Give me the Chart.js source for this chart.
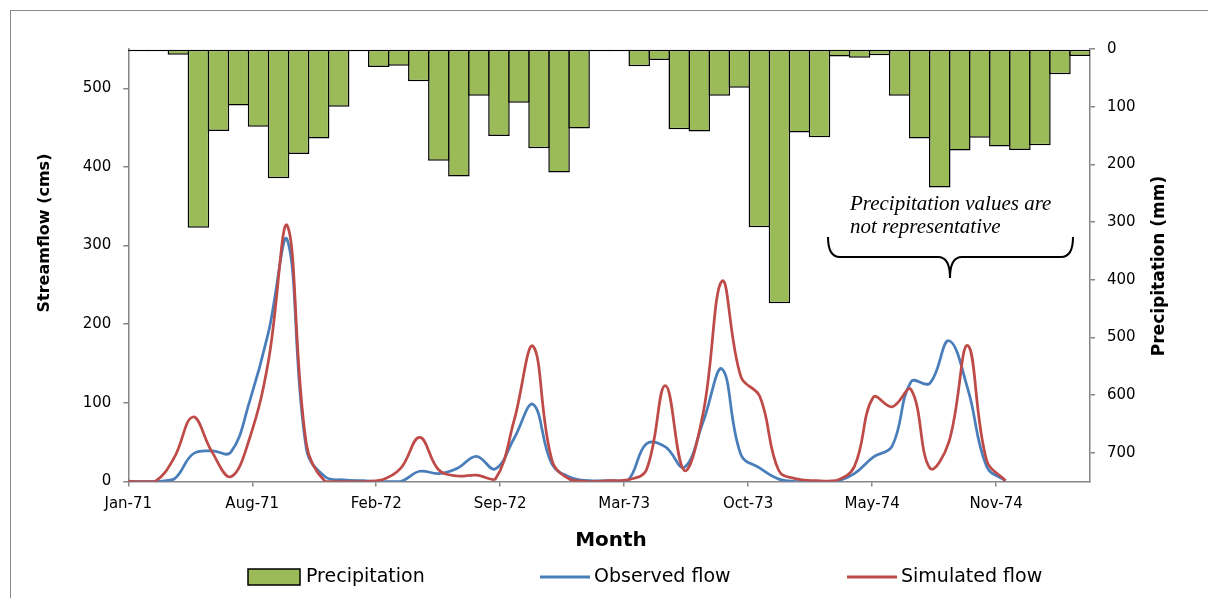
<!DOCTYPE html>
<html>
<head>
<meta charset="utf-8">
<title>Streamflow and precipitation</title>
<script src="https://cdn.jsdelivr.net/npm/chart.js@4.4.1/dist/chart.umd.min.js"></script>
<style>
  html, body { margin: 0; padding: 0; background: #fff; overflow: hidden; }
</style>
</head>
<body>
<canvas id="flowChart" width="1208" height="598"></canvas>
<script>
// ─── DATA ───────────────────────────────────────────────

const monthNames = ['Jan', 'Feb', 'Mar', 'Apr', 'May', 'Jun', 'Jul', 'Aug', 'Sep', 'Oct', 'Nov', 'Dec'];
const years = ['71', '72', '73', '74'];
const months = [];
years.forEach(y => monthNames.forEach(m => months.push(m + '-' + y)));

// monthly precipitation (mm), right axis, drawn downward
const precipitation = [
  4, 4, 10, 310, 142, 98, 135, 224, 182, 155, 100, 4,
  31, 29, 56, 194, 221, 81, 151, 93, 172, 214, 138, 4,
  4, 30, 19, 139, 143, 81, 67, 309, 441, 145, 153, 13,
  15, 11, 81, 155, 240, 176, 154, 169, 175, 167, 44, 12
];

// monthly streamflow (cms), left axis
const observedFlow = [
  0, 0, 0, 3, 35, 39, 37, 102, 190, 307, 42, 6,
  2, 1, 0, 0, 13, 10, 17, 32, 16, 55, 98, 22,
  5, 1, 1, 1, 48, 44, 18, 76, 143, 34, 17, 3,
  0, 0, 0, 10, 31, 45, 127, 125, 179, 118, 19, 1
];

const simulatedFlow = [
  1, 0, 0, 30, 82, 38, 6, 55, 154, 325, 48, 0,
  0, 0, 2, 17, 56, 15, 7, 8, 3, 78, 172, 27,
  2, 0, 1, 2, 15, 122, 14, 87, 255, 133, 108, 14,
  3, 1, 1, 19, 107, 95, 117, 17, 50, 173, 27, 1
];

const tickLabels = ['Jan-71', 'Aug-71', 'Feb-72', 'Sep-72', 'Mar-73', 'Oct-73', 'May-74', 'Nov-74'];

// ─── CHART ──────────────────────────────────────────────

const X_MIN = 0.58;       // axis starts a little after the first month
const X_MAX = 51.47;
const TICK_STEP = 6.56;   // ~200 days between date labels

const axisGrey = '#868686';
const tickFont = { family: '"DejaVu Sans", sans-serif', size: 15 };

const decorations = {
  id: 'decorations',
  beforeDraw(chart) {
    const { ctx } = chart;
    ctx.save();
    ctx.strokeStyle = '#8a8a8a';
    ctx.lineWidth = 1;
    ctx.strokeRect(10.5, 10.5, 1400, 800);
    ctx.restore();
  },
  afterDraw(chart) {
    const { ctx } = chart;
    const sets = chart.data.datasets;
    ctx.save();
    ctx.fillStyle = '#000';
    ctx.textBaseline = 'middle';
    ctx.textAlign = 'center';

    // axis titles
    ctx.font = 'bold 16px "DejaVu Sans", sans-serif';
    ctx.save();
    ctx.translate(45, 233);
    ctx.rotate(-Math.PI / 2);
    ctx.fillText('Streamflow (cms)', 0, 0);
    ctx.restore();

    ctx.font = 'bold 17px "DejaVu Sans", sans-serif';
    ctx.save();
    ctx.translate(1160, 266);
    ctx.rotate(-Math.PI / 2);
    ctx.fillText('Precipitation (mm)', 0, 0);
    ctx.restore();

    ctx.font = 'bold 20px "DejaVu Sans", sans-serif';
    ctx.fillText('Month', 611, 541);

    // legend
    const ly = 577;
    ctx.font = '19px "DejaVu Sans", sans-serif';
    ctx.textAlign = 'left';
    const bar = sets.find(d => d.type === 'bar');
    ctx.fillStyle = bar.backgroundColor;
    ctx.fillRect(248, ly - 8, 52, 16);
    ctx.strokeStyle = '#000';
    ctx.lineWidth = 1.5;
    ctx.strokeRect(248, ly - 8, 52, 16);
    ctx.fillStyle = '#000';
    ctx.fillText(bar.label, 306, ly);

    const lineItems = [[sets[0], 540], [sets[1], 847]];
    lineItems.forEach(([ds, x]) => {
      ctx.strokeStyle = ds.borderColor;
      ctx.lineWidth = 3;
      ctx.beginPath();
      ctx.moveTo(x, ly);
      ctx.lineTo(x + 50, ly);
      ctx.stroke();
      ctx.fillStyle = '#000';
      ctx.fillText(ds.label, x + 54, ly);
    });

    // note about precipitation
    ctx.font = 'italic 21px "Liberation Serif", serif';
    ctx.textBaseline = 'alphabetic';
    ctx.fillText('Precipitation values are', 850, 210);
    ctx.fillText('not representative', 850, 233);

    ctx.strokeStyle = '#000';
    ctx.lineWidth = 2;
    ctx.beginPath();
    ctx.moveTo(828, 237);
    ctx.quadraticCurveTo(828, 257, 840, 257);
    ctx.lineTo(938, 257);
    ctx.quadraticCurveTo(950, 257, 950, 278);
    ctx.quadraticCurveTo(950, 257, 962, 257);
    ctx.lineTo(1061, 257);
    ctx.quadraticCurveTo(1073, 257, 1073, 237);
    ctx.stroke();

    ctx.restore();
  }
};

function initFlowChart() {
  const canvas = document.getElementById('flowChart');
  const ctx = canvas.getContext('2d');

  new Chart(ctx, {
    data: {
      labels: months,
      datasets: [
        {
          type: 'line',
          label: 'Observed flow',
          data: observedFlow.map((v, i) => ({ x: i, y: v })),
          xAxisID: 'x',
          yAxisID: 'y',
          borderColor: '#4A7EBB',
          borderWidth: 2.75,
          tension: 0.4,
          pointRadius: 0,
          order: 1
        },
        {
          type: 'line',
          label: 'Simulated flow',
          data: simulatedFlow.map((v, i) => ({ x: i, y: v })),
          xAxisID: 'x',
          yAxisID: 'y',
          borderColor: '#BE4B48',
          borderWidth: 2.75,
          tension: 0.4,
          pointRadius: 0,
          order: 0
        },
        {
          type: 'bar',
          label: 'Precipitation',
          data: precipitation,
          xAxisID: 'x2',
          yAxisID: 'y2',
          backgroundColor: '#9BBB59',
          borderColor: '#000000',
          borderWidth: 1.5,
          borderSkipped: false,
          grouped: false,
          barPercentage: 1.075,
          categoryPercentage: 1,
          order: 2
        }
      ]
    },
    options: {
      responsive: false,
      animation: false,
      layout: { padding: { top: 49, left: 0, right: 0, bottom: 0 } },
      plugins: {
        legend: { display: false },
        tooltip: { enabled: false }
      },
      scales: {
        x: {
          type: 'linear',
          position: 'bottom',
          min: X_MIN,
          max: X_MAX,
          afterBuildTicks: s => {
            s.ticks = tickLabels.map((t, i) => ({ value: X_MIN + i * TICK_STEP }));
          },
          afterFit: s => { s.height = 116.5; },
          grid: { drawOnChartArea: false, tickLength: 5, color: axisGrey, lineWidth: 1.5 },
          border: { color: axisGrey, width: 1.5 },
          ticks: {
            autoSkip: false,
            maxRotation: 0,
            padding: 9,
            color: '#000',
            font: tickFont,
            callback: (v, i) => tickLabels[i]
          }
        },
        x2: { type: 'category', display: false, offset: true },
        y: {
          position: 'left',
          min: 0,
          max: 550,
          afterFit: s => { s.width = 128.3; },
          grid: { drawOnChartArea: false, tickLength: 5, color: axisGrey, lineWidth: 1.5 },
          border: { color: axisGrey, width: 1.5 },
          ticks: { stepSize: 100, includeBounds: false, padding: 12, color: '#000', font: tickFont }
        },
        y2: {
          position: 'right',
          min: 0,
          max: 750,
          reverse: true,
          afterFit: s => { s.width = 118; },
          grid: { drawOnChartArea: false, tickLength: 5, color: axisGrey, lineWidth: 1.5 },
          border: { color: axisGrey, width: 1.5 },
          ticks: { stepSize: 100, includeBounds: false, padding: 12, color: '#000', font: tickFont }
        }
      }
    },
    plugins: [decorations]
  });
}

document.addEventListener('DOMContentLoaded', initFlowChart);
</script>
</body>
</html>
